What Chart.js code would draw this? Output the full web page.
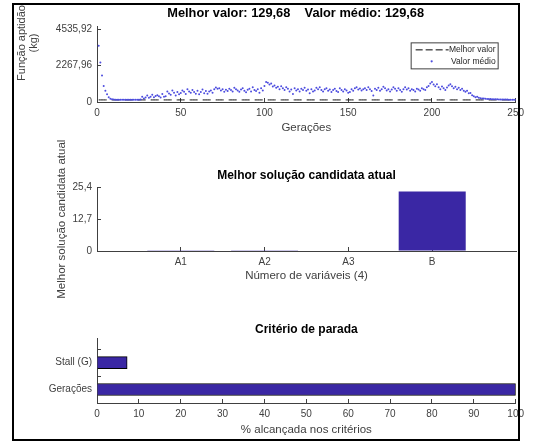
<!DOCTYPE html>
<html>
<head>
<meta charset="utf-8">
<script src="https://cdn.jsdelivr.net/npm/chart.js@4.4.1/dist/chart.umd.min.js"></script>
<style>
html, body { margin: 0; padding: 0; background: #fff; }
#page { position: relative; width: 533px; height: 446px; overflow: hidden; }
#frame { position: absolute; left: 12px; top: 3px; width: 508px; height: 438px; border: 2px solid #000; box-sizing: border-box; }
canvas { position: absolute; left: 0; }
</style>
</head>
<body>
<div id="page">
<canvas id="fitChart" width="533" height="140" style="top:0px"></canvas>
<canvas id="indivChart" width="533" height="160" style="top:140px"></canvas>
<canvas id="stopChart" width="533" height="136" style="top:305px"></canvas>
<div id="frame"></div>
</div>
<script>
// top plot: fitness per generation
const bestValue = 129.68;
const meanValues = [
  3500, 2450, 1650, 1000, 700, 480, 300, 200, 170, 150,
  140, 135, 140, 135, 138, 140, 135, 136, 140, 135,
  140, 138, 142, 140, 145, 150, 330, 220, 280, 400,
  260, 330, 450, 300, 380, 420, 350, 280, 500, 330,
  350, 660, 530, 450, 720, 580, 400, 620, 480, 560,
  720, 640, 500, 800, 650, 580, 750, 620, 520, 700,
  480, 620, 780, 550, 690, 520, 650, 720, 580, 790,
  900, 820, 860, 720, 800, 640, 760, 680, 820, 750,
  660, 880, 800, 720, 640, 780, 860, 700, 600, 760,
  820, 660, 920, 740, 680, 800, 580, 860, 720, 1000,
  1250, 1200, 1080, 1150, 960, 1020, 880, 940, 800, 980,
  860, 750, 920, 820, 660, 780, 500, 850, 720, 800,
  660, 820, 740, 880, 700, 780, 550, 800, 660, 720,
  880, 800, 920, 740, 660, 800, 860, 700, 780, 620,
  740, 820, 680, 620, 860, 740, 660, 800, 720, 580,
  620, 800, 700, 860, 920, 780, 840, 720, 800, 860,
  740, 920, 800, 680, 400, 820, 750, 880, 700, 800,
  940, 860, 720, 800, 660, 780, 920, 820, 700, 860,
  740, 640, 800, 920, 780, 860, 700, 800, 740, 660,
  820, 780, 700, 860, 800, 740, 920, 1000, 1150, 1250,
  1080, 980, 1100, 920, 800, 960, 860, 740, 900, 1020,
  1100, 980, 860, 940, 800, 880, 740, 820, 700, 640,
  700, 540, 560, 420, 360, 300, 330, 260, 240, 220,
  210, 200, 190, 185, 180, 175, 170, 168, 165, 160,
  158, 155, 152, 150, 148, 145, 143, 140, 138, 135
];
const generations = meanValues.map((v, i) => i + 1);
const fitTicks = [0, 2267.96, 4535.92];

// middle plot: best individual
const varNames = ["A1", "A2", "A3", "B"];
const varValues = [0.3, 0.05, 0.2, 23.8];
const varTicks = [0, 12.7, 25.4];

// bottom plot: stopping criteria
const stopNames = ["Gerações", "Stall (G)"];
const stopValues = [100, 7.2];

const AXIS = "#404040";
const BAR = "#3a27a4";
const DOT = "#4d4ddf";
const FONT = "'Liberation Sans', Arial, sans-serif";
Chart.defaults.font.family = FONT;
Chart.defaults.color = AXIS;
Chart.defaults.animation = false;

function comma(v) {
  return String(v).replace(".", ",");
}

function axisGrid() {
  return { display: true, drawOnChartArea: false, offset: false, tickLength: -4, color: AXIS };
}

// matlab puts this ylabel higher than the axis middle
const fitYLabel = {
  id: "fitYLabel",
  afterDraw(chart) {
    const c = chart.ctx;
    c.save();
    c.fillStyle = AXIS;
    c.font = "11px " + FONT;
    c.textAlign = "center";
    c.textBaseline = "middle";
    c.translate(22, 43);
    c.rotate(-Math.PI / 2);
    c.fillText("Função aptidão", 0, 0);
    c.fillText("(kg)", 0, 12);
    c.restore();
  }
};

const fitLegend = {
  id: "fitLegend",
  afterDraw(chart) {
    const c = chart.ctx;
    const a = chart.chartArea;
    const x0 = a.right - 105, y0 = a.top + 16, w = 87, h = 26;
    c.save();
    c.fillStyle = "#fff";
    c.fillRect(x0, y0, w, h);
    c.strokeStyle = AXIS;
    c.lineWidth = 1;
    c.strokeRect(x0 + 0.5, y0 + 0.5, w, h);
    c.strokeStyle = "#000";
    c.setLineDash([7, 3]);
    c.beginPath();
    c.moveTo(x0 + 5, y0 + 7.5);
    c.lineTo(x0 + 38, y0 + 7.5);
    c.stroke();
    c.setLineDash([]);
    c.fillStyle = DOT;
    c.beginPath();
    c.arc(x0 + 21, y0 + 19, 1.1, 0, Math.PI * 2);
    c.fill();
    c.fillStyle = "#262626";
    c.font = "8.5px " + FONT;
    c.textAlign = "right";
    c.textBaseline = "middle";
    c.fillText("Melhor valor", x0 + w - 2, y0 + 7.5);
    c.fillText("Valor médio", x0 + w - 2, y0 + 19);
    c.restore();
  }
};

new Chart(document.getElementById("fitChart"), {
  type: "scatter",
  data: {
    datasets: [
      {
        label: "Valor médio",
        data: generations.map((g, i) => ({ x: g, y: meanValues[i] })),
        pointRadius: 1,
        pointBorderWidth: 0,
        backgroundColor: DOT,
        order: 1
      },
      {
        label: "Melhor valor",
        type: "line",
        data: generations.map(g => ({ x: g, y: bestValue })),
        borderColor: "#111",
        borderWidth: 1,
        borderDash: [8, 5],
        pointRadius: 0,
        order: 2
      }
    ]
  },
  options: {
    responsive: false,
    layout: { padding: { right: 17 } },
    plugins: {
      legend: { display: false },
      tooltip: { enabled: false },
      title: {
        display: true,
        fullSize: false,
        // trailing spaces: the original title sits a little left of the axes centre
        text: "Melhor valor: 129,68    Valor médio: 129,68\u00a0\u00a0\u00a0\u00a0\u00a0\u00a0",
        color: "#000",
        font: { size: 12.8, weight: "bold" },
        padding: { top: 6, bottom: 5 }
      }
    },
    scales: {
      x: {
        type: "linear",
        min: 0,
        max: 250,
        ticks: { stepSize: 50, font: { size: 10 }, padding: 9, maxRotation: 0 },
        grid: axisGrid(),
        border: { color: AXIS },
        title: { display: true, text: "Gerações", font: { size: 11.5 }, padding: { bottom: 5 } },
        afterFit(s) { s.height = 38; }
      },
      y: {
        min: 0,
        max: 4700,
        afterBuildTicks(s) { s.ticks = fitTicks.map(v => ({ value: v })); },
        ticks: { font: { size: 10 }, padding: 9, callback: v => comma(v) },
        grid: axisGrid(),
        border: { color: AXIS },
        afterFit(s) { s.width = 97; }
      }
    }
  },
  plugins: [fitLegend, fitYLabel]
});

new Chart(document.getElementById("indivChart"), {
  type: "bar",
  data: {
    labels: ["", ...varNames, ""],
    datasets: [{
      label: "Melhor solução candidata atual",
      data: [null, ...varValues, null],
      backgroundColor: BAR,
      borderWidth: 0,
      barPercentage: 0.8,
      categoryPercentage: 1
    }]
  },
  options: {
    responsive: false,
    layout: { padding: { right: 17 } },
    plugins: {
      legend: { display: false },
      tooltip: { enabled: false },
      title: {
        display: true,
        fullSize: false,
        text: "Melhor solução candidata atual",
        color: "#000",
        font: { size: 12, weight: "bold" },
        padding: { top: 28, bottom: 5 }
      }
    },
    scales: {
      x: {
        offset: false,
        ticks: { font: { size: 10 }, padding: 9, maxRotation: 0, autoSkip: false },
        grid: {
          display: true,
          drawOnChartArea: false,
          offset: false,
          tickLength: -4,
          color: c => (c.index === 0 || c.index === varNames.length + 1) ? "rgba(0,0,0,0)" : AXIS
        },
        border: { color: AXIS },
        title: { display: true, text: "Número de variáveis (4)", font: { size: 11.5 }, padding: { bottom: 17 } },
        afterFit(s) { s.height = 49; }
      },
      y: {
        min: 0,
        max: 25.4,
        afterBuildTicks(s) { s.ticks = varTicks.map(v => ({ value: v })); },
        ticks: { font: { size: 10 }, padding: 9, callback: v => comma(v) },
        grid: axisGrid(),
        border: { color: AXIS },
        title: {
          display: true,
          text: "Melhor solução candidata atual",
          font: { size: 11.5 },
          padding: { top: 55 }
        },
        afterFit(s) { s.width = 97; }
      }
    }
  }
});

new Chart(document.getElementById("stopChart"), {
  type: "bar",
  data: {
    datasets: [{
      label: "Critério de parada",
      data: stopNames.map((n, i) => ({ x: stopValues[i], y: i + 1 })),
      backgroundColor: BAR,
      borderColor: "#000",
      borderWidth: 1,
      barThickness: 12
    }]
  },
  options: {
    responsive: false,
    indexAxis: "y",
    layout: { padding: { right: 17 } },
    plugins: {
      legend: { display: false },
      tooltip: { enabled: false },
      title: {
        display: true,
        fullSize: false,
        text: "Critério de parada",
        color: "#000",
        font: { size: 12, weight: "bold" },
        padding: { top: 17, bottom: 2 }
      }
    },
    scales: {
      x: {
        type: "linear",
        min: 0,
        max: 100,
        ticks: { stepSize: 10, font: { size: 10 }, padding: 9, maxRotation: 0 },
        grid: axisGrid(),
        border: { color: AXIS },
        title: { display: true, text: "% alcançada nos critérios", font: { size: 11.5 }, padding: { bottom: 4 } },
        afterFit(s) { s.height = 38; }
      },
      y: {
        type: "linear",
        offset: false,
        min: 0.5,
        max: 2.9,
        afterBuildTicks(s) { s.ticks = [1, 1.5, 2, 2.5].map(v => ({ value: v })); },
        ticks: {
          font: { size: 10 },
          padding: 9,
          callback: v => Number.isInteger(v) ? stopNames[v - 1] : ""
        },
        grid: {
          display: true,
          drawOnChartArea: false,
          offset: false,
          tickLength: -4,
          color: c => (c.tick && Number.isInteger(c.tick.value)) ? "rgba(0,0,0,0)" : AXIS
        },
        border: { color: AXIS },
        afterFit(s) { s.width = 97; }
      }
    }
  }
});
</script>
</body>
</html>
